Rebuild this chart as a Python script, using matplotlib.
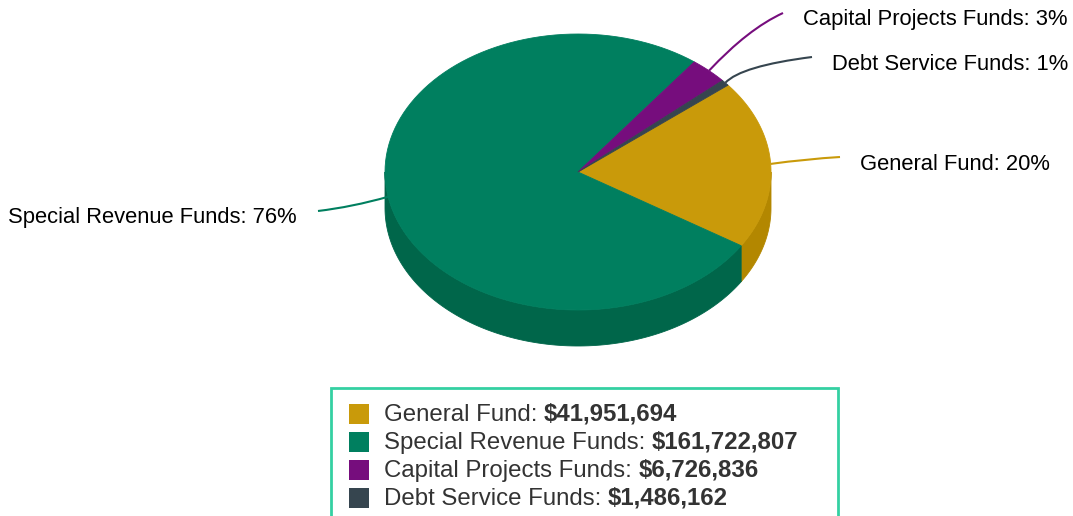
import numpy as np
import matplotlib
matplotlib.use("Agg")
import matplotlib.pyplot as plt
from matplotlib.patches import Polygon, Rectangle, PathPatch
from matplotlib.path import Path

# data
funds = ["General Fund", "Special Revenue Funds", "Capital Projects Funds", "Debt Service Funds"]
amounts = [41951694, 161722807, 6726836, 1486162]
top_colors = ["#c99a0a", "#007f5f", "#760d7d", "#36454f"]
side_colors = ["#b38700", "#00664a", "#5e0a64", "#2b373f"]

plt.rcParams["font.family"] = ["Liberation Sans", "DejaVu Sans"]

W, H = 1073, 516
fig = plt.figure(figsize=(W / 100, H / 100), dpi=100)
ax = fig.add_axes([0, 0, 1, 1])
ax.set_xlim(0, W)
ax.set_ylim(H, 0)
ax.axis("off")

# pie geometry in pixels (y down, angles clockwise on screen)
cx, cy, a, b, depth = 578, 172, 193, 138, 36
start = -39.0

vals = np.array(amounts, dtype=float)
frac = vals / vals.sum()
ends = start + np.cumsum(frac) * 360
starts = ends - frac * 360


def arc(t0, t1, dy=0, n=120):
    t = np.radians(np.linspace(t0, t1, n))
    return np.column_stack([cx + a * np.cos(t), cy + dy + b * np.sin(t)])


# side walls (front half only)
for s, e, col in zip(starts, ends, side_colors):
    for k in (-1, 0, 1):
        lo, hi = max(s, 360 * k), min(e, 180 + 360 * k)
        if hi > lo:
            top = arc(lo, hi)
            bot = arc(lo, hi, depth)[::-1]
            ax.add_patch(Polygon(np.vstack([top, bot]), closed=True,
                                 facecolor=col, edgecolor=col, lw=0.6, zorder=1))

# top faces
for s, e, col in zip(starts, ends, top_colors):
    pts = np.vstack([[cx, cy], arc(s, e)])
    ax.add_patch(Polygon(pts, closed=True, facecolor=col, edgecolor=col,
                         lw=0.6, zorder=2))

# data labels with curved connectors
label_ends = [(840, 157), (318, 211), (783, 13), (812, 57)]
label_ctrl = [(806, 159), (352, 207), (748, 29), (741, 66)]
for i, name in enumerate(funds):
    mid = np.radians((starts[i] + ends[i]) / 2)
    p0 = (cx + a * np.cos(mid), cy + b * np.sin(mid))
    p2 = label_ends[i]
    path = Path([p0, label_ctrl[i], p2], [Path.MOVETO, Path.CURVE3, Path.CURVE3])
    ax.add_patch(PathPatch(path, facecolor="none", edgecolor=top_colors[i],
                           lw=1.5, zorder=3))
    pct = f"{name}: {frac[i] * 100:.0f}%"
    if p2[0] < cx:
        ax.text(p2[0] - 21, p2[1] + 7, pct, ha="right", va="center",
                fontsize=15.8, color="black")
    else:
        ax.text(p2[0] + 20, p2[1] + 7, pct, ha="left", va="center",
                fontsize=15.8, color="black")

# legend
ax.add_patch(Rectangle((331, 388), 507, 200, facecolor="white",
                       edgecolor="#34d0a2", lw=2, zorder=4))
renderer = fig.canvas.get_renderer()
inv = ax.transData.inverted()
for i, name in enumerate(funds):
    yy = 414 + 28 * i
    ax.add_patch(Rectangle((349, yy - 10), 20, 20, facecolor=top_colors[i],
                           edgecolor="none", zorder=5))
    t = ax.text(384, yy + 7, f"{name}: ", ha="left", va="baseline",
                fontsize=17.3, color="#333333", zorder=5)
    bb = t.get_window_extent(renderer)
    x_end = inv.transform((bb.x1, bb.y0))[0]
    ax.text(x_end, yy + 7, f"${amounts[i]:,}", ha="left", va="baseline",
            fontsize=17.3, fontweight="bold", color="#333333", zorder=5)

fig.savefig("out.png", dpi=100)
